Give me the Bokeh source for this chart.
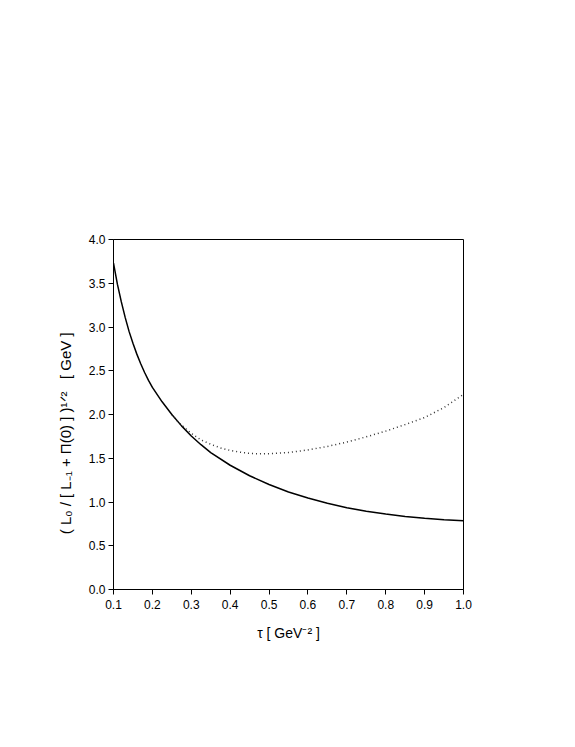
from bokeh.plotting import figure
from bokeh.models import Range1d, FixedTicker, NumeralTickFormatter
from bokeh.embed import file_html
from bokeh.resources import INLINE

# ---- data ----
tau_solid = [0.10, 0.11, 0.12, 0.13, 0.14, 0.15, 0.16, 0.17, 0.18, 0.19, 0.20, 0.225, 0.25,
             0.275, 0.30, 0.325, 0.35, 0.40, 0.45, 0.50, 0.55, 0.60, 0.65, 0.70, 0.75, 0.80,
             0.85, 0.90, 0.95, 1.00]
ratio_solid = [3.73, 3.49, 3.29, 3.11, 2.95, 2.815, 2.69, 2.58, 2.48, 2.39, 2.31, 2.145, 2.00,
               1.87, 1.755, 1.655, 1.565, 1.42, 1.30, 1.20, 1.115, 1.045, 0.985, 0.935, 0.895,
               0.862, 0.835, 0.813, 0.797, 0.785]

tau_dot = [0.25, 0.26, 0.275, 0.30, 0.325, 0.35, 0.375, 0.40, 0.425, 0.45, 0.475, 0.50,
           0.55, 0.60, 0.65, 0.70, 0.75, 0.80, 0.85, 0.90, 0.95, 1.00]
ratio_dot = [2.00, 1.945, 1.878, 1.785, 1.71, 1.66, 1.618, 1.59, 1.57, 1.555, 1.55, 1.552,
             1.565, 1.595, 1.635, 1.685, 1.745, 1.81, 1.885, 1.965, 2.08, 2.23]

x_ticks = [0.1, 0.2, 0.3, 0.4, 0.5, 0.6, 0.7, 0.8, 0.9, 1.0]
y_ticks = [0.0, 0.5, 1.0, 1.5, 2.0, 2.5, 3.0, 3.5, 4.0]

x_label = "\u03c4 [ GeV\u207b\u00b2 ]"
NB = "\u00a0"
y_label = ("( L\u2080 / [ L\u208b\u2081 + \u03a0(0) ] )\u00b9\u141f\u00b2" + NB * 3 + "[ GeV ]"
           + NB * 9)

FONT = "Liberation Sans"

FL, FT, FW, FH = 113, 239, 350, 350
W, H = 560, 720

p = figure(width=W, height=H, output_backend="svg", toolbar_location=None,
           x_range=Range1d(0.1, 1.0), y_range=Range1d(0.0, 4.0),
           min_border_left=FL, min_border_top=FT,
           min_border_right=W - FL - FW, min_border_bottom=H - FT - FH)
p.background_fill_color = "white"
p.border_fill_color = "white"
p.outline_line_color = "black"
p.outline_line_width = 1
p.grid.visible = False

for ax in (p.xaxis[0], p.yaxis[0]):
    ax.axis_line_color = "black"
    ax.major_tick_line_color = "black"
    ax.major_tick_out = 5
    ax.major_tick_in = 0
    ax.minor_tick_line_color = None
    ax.major_label_text_font = FONT
    ax.major_label_text_font_size = "12px"
    ax.major_label_text_color = "black"
    ax.formatter = NumeralTickFormatter(format="0.0")
    ax.axis_label_text_font = FONT
    ax.axis_label_text_font_style = "normal"
    ax.axis_label_text_color = "black"
p.xaxis[0].axis_label_text_font_size = "14px"
p.yaxis[0].axis_label_text_font_size = "15px"
p.xaxis[0].ticker = FixedTicker(ticks=x_ticks)
p.yaxis[0].ticker = FixedTicker(ticks=y_ticks)
p.xaxis[0].major_label_standoff = 5
p.yaxis[0].major_label_standoff = 3
p.xaxis[0].axis_label = x_label
p.yaxis[0].axis_label = y_label
p.xaxis[0].axis_label_standoff = 13
p.yaxis[0].axis_label_standoff = 12

p.line(tau_solid, ratio_solid, line_color="black", line_width=1.5)
p.line(tau_dot, ratio_dot, line_color="#333333", line_width=1.5, line_dash="1 3")

open("out.html", "w").write(file_html(p, INLINE))
